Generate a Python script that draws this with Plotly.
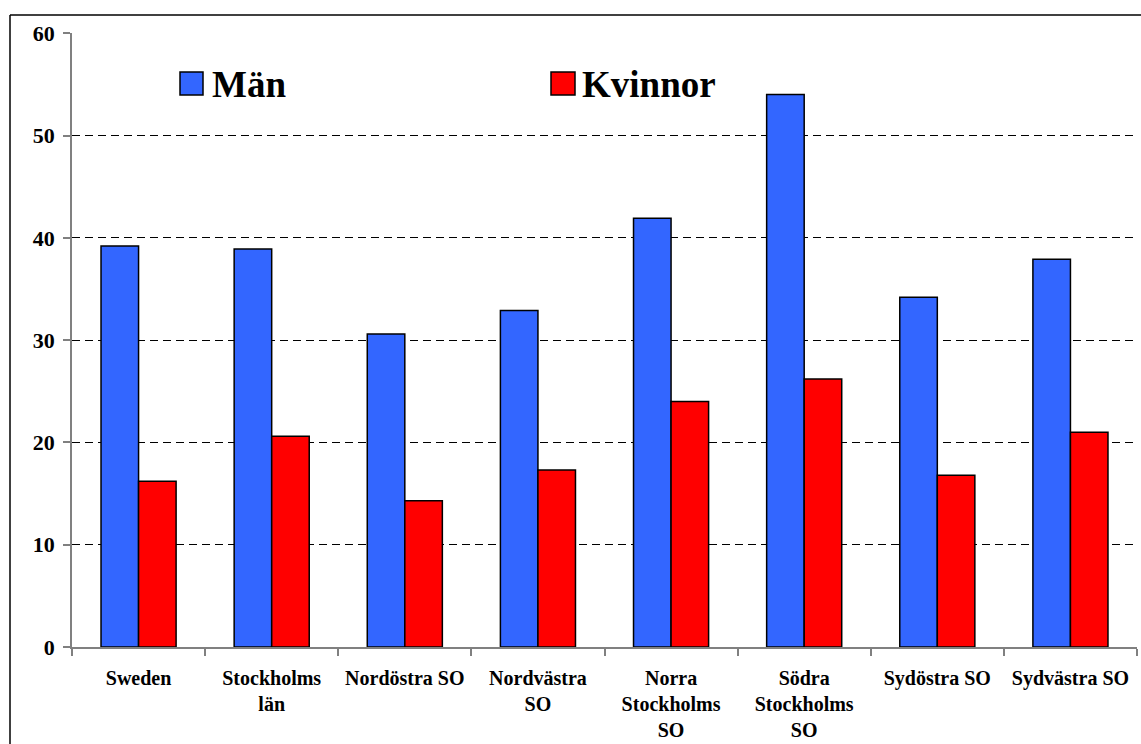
import plotly.graph_objects as go

categories = ["Sweden", "Stockholms<br>län", "Nordöstra SO", "Nordvästra<br>SO",
              "Norra<br>Stockholms<br>SO", "Södra<br>Stockholms<br>SO",
              "Sydöstra SO", "Sydvästra SO"]
man = [39.2, 38.9, 30.6, 32.9, 41.9, 54.0, 34.2, 37.9]
kvinnor = [16.2, 20.6, 14.3, 17.3, 24.0, 26.2, 16.8, 21.0]
y_ticks = [0, 10, 20, 30, 40, 50, 60]

BLUE = "#3366FF"
RED = "#FF0000"
FONT = "Liberation Serif"

fig = go.Figure()
fig.add_trace(go.Bar(name="Män", x=categories, y=man, marker=dict(color=BLUE, line=dict(color="black", width=1.5))))
fig.add_trace(go.Bar(name="Kvinnor", x=categories, y=kvinnor, marker=dict(color=RED, line=dict(color="black", width=1.5))))

W, H = 1141, 744
L, R, T, B = 72, 4, 33, 97
pw = W - L - R
ph = H - T - B

def px(x):
    return (x - L) / pw

def py(y):
    return (H - B - y) / ph

shapes = [
    dict(type="line", xref="paper", yref="paper", x0=px(10), x1=px(W + 5), y0=py(15), y1=py(15),
         line=dict(color="black", width=1.5)),
    dict(type="line", xref="paper", yref="paper", x0=px(10), x1=px(10), y0=py(15), y1=py(H + 5),
         line=dict(color="black", width=1.5)),
    dict(type="rect", xref="paper", yref="paper", x0=px(180), x1=px(203), y0=py(95), y1=py(72),
         fillcolor=BLUE, line=dict(color="black", width=1.5)),
    dict(type="rect", xref="paper", yref="paper", x0=px(551), x1=px(575), y0=py(95), y1=py(72),
         fillcolor=RED, line=dict(color="black", width=1.5)),
]
annotations = [
    dict(text="<b>Män</b>", xref="paper", yref="paper", x=px(210), y=py(84), xanchor="left", yanchor="middle",
         showarrow=False, font=dict(family=FONT, size=37, color="black")),
    dict(text="<b>Kvinnor</b>", xref="paper", yref="paper", x=px(580), y=py(84), xanchor="left", yanchor="middle",
         showarrow=False, font=dict(family=FONT, size=37, color="black")),
]

fig.update_layout(
    width=W, height=H,
    margin=dict(l=L, r=R, t=T, b=B, pad=0),
    paper_bgcolor="white", plot_bgcolor="white",
    barmode="group", bargap=0.436, bargroupgap=0,
    showlegend=False,
    shapes=shapes, annotations=annotations,
    font=dict(family=FONT, color="black"),
)
fig.update_xaxes(
    type="category", showline=True, linecolor="#808080", linewidth=1.5,
    ticks="outside", tickson="boundaries", ticklen=7, tickcolor="#808080", tickwidth=1.5,
    tickfont=dict(family=FONT, size=20, color="black", weight="bold"), showgrid=False,
    ticklabelstandoff=12,
)
fig.update_yaxes(
    range=[0, 60.02], tickvals=y_ticks, showline=True, linecolor="#808080", linewidth=1.5,
    ticks="outside", ticklen=7, tickcolor="#808080", tickwidth=1.5,
    tickfont=dict(family=FONT, size=22, color="black", weight="bold"),
    ticklabelstandoff=4,
    showgrid=True, gridcolor="black", gridwidth=1, griddash="8px,5px", zeroline=False,
)
fig.write_html("out.html", config={"displayModeBar": False},
               post_script="document.body.style.margin='0';")
